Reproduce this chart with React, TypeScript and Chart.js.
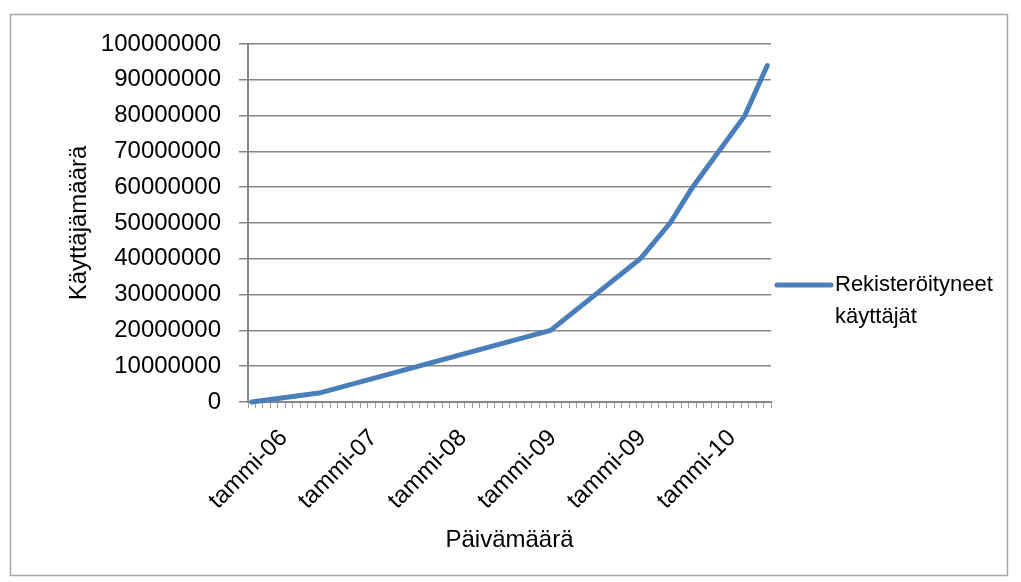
import React, { useEffect, useRef } from "react";
import { Chart, registerables } from "chart.js";

Chart.register(...registerables);

// Monthly category axis; a date label is printed on every 12th month.
const tickLabels = ["tammi-06", "tammi-07", "tammi-08", "tammi-09", "tammi-09", "tammi-10"];
const labelStep = 12;
const categoryCount = 70;

// Registered users at the months where the series changes slope.
const pointIndex = [0, 9, 40, 52, 56, 59, 66, 69];
const userCounts = [0, 2500000, 20000000, 40000000, 50000000, 60000000, 80000000, 94000000];

const seriesLabel = "Rekisteröityneet käyttäjät";
const xTitle = "Päivämäärä";
const yTitle = "Käyttäjämäärä";
const yMax = 100000000;
const yStep = 10000000;

const FONT = "'Liberation Sans', Arial, sans-serif";
const LINE_BLUE = "#4a7ebb";
const AXIS_GRAY = "#868686";

const categories: string[] = Array.from({ length: categoryCount }, (_, i) =>
  i % labelStep === 0 ? tickLabels[i / labelStep] ?? "" : ""
);
const series: (number | null)[] = Array.from({ length: categoryCount }, () => null);
pointIndex.forEach((idx, k) => {
  series[idx] = userCounts[k];
});

// Outer frame around the whole chart plus a wrapped legend on the right.
const frameAndLegend = {
  id: "frameAndLegend",
  beforeDraw(chart: any) {
    const ctx = chart.ctx;
    ctx.save();
    ctx.fillStyle = "#ffffff";
    ctx.fillRect(0, 0, chart.width, chart.height);
    ctx.strokeStyle = "#a6a6a6";
    ctx.lineWidth = 1.5;
    ctx.strokeRect(10.5, 14.5, 997, 561);
    ctx.restore();
  },
  afterDraw(chart: any) {
    const ctx = chart.ctx;
    const ds = chart.data.datasets[0];
    const x0 = chart.chartArea.right + 4;
    const y0 = 285;
    ctx.save();
    ctx.strokeStyle = ds.borderColor;
    ctx.lineWidth = 5;
    ctx.lineCap = "round";
    ctx.beginPath();
    ctx.moveTo(x0 + 2, y0);
    ctx.lineTo(x0 + 56, y0);
    ctx.stroke();
    ctx.fillStyle = "#000";
    ctx.font = `22px ${FONT}`;
    ctx.textBaseline = "middle";
    ctx.textAlign = "left";
    const words = String(ds.label).split(" ");
    const maxW = 170;
    const lines: string[] = [];
    let cur = "";
    words.forEach((w) => {
      const test = cur ? cur + " " + w : w;
      if (cur && ctx.measureText(test).width > maxW) {
        lines.push(cur);
        cur = w;
      } else {
        cur = test;
      }
    });
    if (cur) lines.push(cur);
    lines.forEach((ln, i) => ctx.fillText(ln, x0 + 60, y0 + i * 32));
    ctx.restore();
  },
};

export default function App() {
  const canvasRef = useRef<HTMLCanvasElement | null>(null);

  useEffect(() => {
    const canvas = canvasRef.current;
    if (!canvas) return;
    Chart.defaults.font.family = FONT;
    Chart.defaults.color = "#000";

    const chart = new Chart(canvas, {
      type: "line",
      data: {
        labels: categories,
        datasets: [
          {
            label: seriesLabel,
            data: series,
            borderColor: LINE_BLUE,
            backgroundColor: LINE_BLUE,
            borderWidth: 5,
            pointRadius: 0,
            pointHoverRadius: 0,
            tension: 0,
            spanGaps: true,
            borderCapStyle: "round",
            borderJoinStyle: "round",
            clip: false as any,
          },
        ],
      },
      options: {
        responsive: false,
        animation: false,
        devicePixelRatio: 1,
        layout: { padding: { left: 10, top: 44, right: 250, bottom: 6 } },
        plugins: {
          legend: { display: false },
          tooltip: { enabled: false },
        },
        scales: {
          x: {
            type: "category",
            offset: true,
            grid: {
              display: true,
              drawOnChartArea: false,
              drawTicks: true,
              tickLength: 6,
              offset: true,
              color: "#9a9a9a",
              lineWidth: 1,
            },
            border: { display: true, color: AXIS_GRAY, width: 2 },
            ticks: {
              autoSkip: false,
              maxRotation: 45,
              minRotation: 45,
              padding: 16,
              labelOffset: 32,
              font: { size: 24 },
              color: "#000",
            },
            title: {
              display: true,
              text: xTitle,
              font: { size: 24 },
              color: "#000",
              padding: { top: 0, bottom: 21 },
            },
            afterFit(scale: any) {
              scale.height = 174;
            },
          },
          y: {
            min: 0,
            max: yMax,
            grid: {
              color: AXIS_GRAY,
              lineWidth: 1.5,
              drawTicks: true,
              tickLength: 9,
            },
            border: { display: true, color: AXIS_GRAY, width: 2 },
            ticks: {
              stepSize: yStep,
              autoSkip: false,
              padding: 18,
              font: { size: 24 },
              color: "#000",
              callback: (v: any) => String(v),
            },
            title: {
              display: true,
              text: yTitle,
              font: { size: 24 },
              color: "#000",
              padding: { top: 55, bottom: 0 },
            },
            afterFit(scale: any) {
              scale.width = 238;
            },
          },
        },
      },
      plugins: [frameAndLegend],
    });

    return () => chart.destroy();
  }, []);

  return (
    <div style={{ position: "fixed", left: 0, top: 0, width: 1021, height: 582, background: "#fff" }}>
      <canvas ref={canvasRef} width={1021} height={582} />
    </div>
  );
}
